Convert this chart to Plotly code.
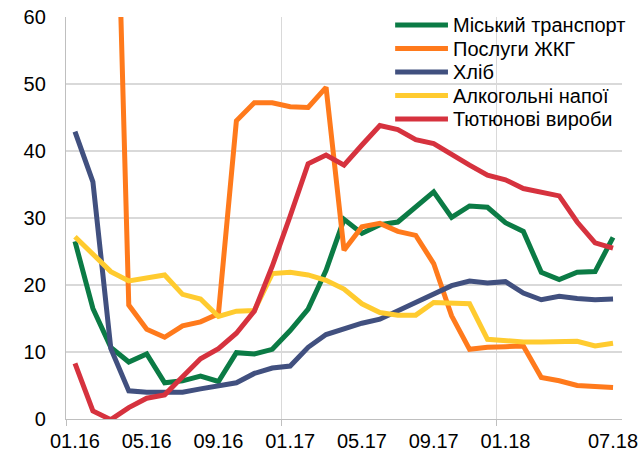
import plotly.graph_objects as go

months = ["01.16","02.16","03.16","04.16","05.16","06.16","07.16","08.16","09.16","10.16","11.16","12.16",
          "01.17","02.17","03.17","04.17","05.17","06.17","07.17","08.17","09.17","10.17","11.17","12.17",
          "01.18","02.18","03.18","04.18","05.18","06.18","07.18"]
tick_labels = ["01.16","05.16","09.16","01.17","05.17","09.17","01.18","07.18"]

transport = [26.5, 16.5, 10.7, 8.5, 9.7, 5.4, 5.7, 6.4, 5.6, 9.9, 9.7, 10.4, 13.2, 16.4, 22.2, 29.8,
             27.7, 29.0, 29.4, 31.6, 33.9, 30.1, 31.8, 31.6, 29.3, 28.0, 21.9, 20.8, 21.9, 22.0, 27.1]
utilities = [103, 104, 115, 17.0, 13.4, 12.2, 13.9, 14.5, 15.7, 44.5, 47.2, 47.2, 46.6, 46.5, 49.5, 25.2,
             28.7, 29.2, 28.0, 27.4, 23.2, 15.4, 10.4, 10.7, 10.8, 10.9, 6.2, 5.7, 5.0, 4.8, 4.7]
bread = [42.9, 35.4, 10.5, 4.2, 4.0, 4.0, 4.0, 4.5, 5.0, 5.4, 6.8, 7.6, 7.9, 10.7, 12.6, 13.5,
         14.3, 14.9, 16.2, 17.5, 18.8, 19.9, 20.6, 20.3, 20.5, 18.8, 17.8, 18.3, 18.0, 17.8, 17.9]
alcohol = [27.2, 24.7, 22.0, 20.6, 21.1, 21.5, 18.6, 17.9, 15.3, 16.1, 16.2, 21.7, 21.9, 21.5, 20.7, 19.4,
           17.2, 15.9, 15.5, 15.5, 17.4, 17.3, 17.2, 11.9, 11.7, 11.5, 11.5, 11.6, 11.6, 10.9, 11.3]
tobacco = [8.3, 1.2, -0.1, 1.7, 3.1, 3.6, 6.3, 9.0, 10.5, 12.8, 16.1, 22.8, 30.3, 38.1, 39.4, 37.9,
           40.9, 43.8, 43.2, 41.7, 41.1, 39.4, 37.9, 36.4, 35.7, 34.4, 33.8, 33.3, 29.4, 26.3, 25.5]

series_names = ["Міський транспорт", "Послуги ЖКГ", "Хліб", "Алкогольні напої", "Тютюнові вироби"]
series_values = [transport, utilities, bread, alcohol, tobacco]
series_colors = ["#0B7B45", "#FF7A1C", "#41507F", "#FFCB2F", "#D6323E"]

font = "Liberation Sans, Arial, sans-serif"
x = list(range(len(months)))
fig = go.Figure()
for name, vals, color in zip(series_names, series_values, series_colors):
    fig.add_trace(go.Scatter(x=x, y=vals, name=name, mode="lines", showlegend=False,
                             text=months, hovertemplate="%{text}: %{y}<extra>" + name + "</extra>",
                             line=dict(color=color, width=5)))

# custom legend (tight row spacing as in the reference)
leg_top = 0.980
leg_step = 0.0585
for i, (name, color) in enumerate(zip(series_names, series_colors)):
    yy = leg_top - i * leg_step
    fig.add_shape(type="line", xref="paper", yref="paper", x0=0.592, x1=0.687, y0=yy, y1=yy,
                  line=dict(color=color, width=5))
    fig.add_annotation(xref="paper", yref="paper", x=0.692, y=yy, xanchor="left", yanchor="middle",
                       text=name, showarrow=False, font=dict(family=font, size=20, color="#000000"))

fig.update_layout(
    width=640, height=452,
    margin=dict(l=66, r=18, t=17, b=33, autoexpand=False),
    paper_bgcolor="white", plot_bgcolor="white",
    font=dict(family=font, size=20, color="#000000"),
    showlegend=False,
    xaxis=dict(range=[-0.5, 30.5], tickmode="array",
               tickvals=[months.index(t) for t in tick_labels], ticktext=tick_labels,
               showgrid=False, ticks="", showline=True, linecolor="#BFBFBF", linewidth=1.3,
               zeroline=False, ticklabelstandoff=4, ticklabeloverflow="allow",
               minor=dict(tickvals=[-0.5, 11.5, 23.5], showgrid=True, gridcolor="#D9D9D9",
                          gridwidth=1.3, ticks="outside", ticklen=6, tickcolor="#BFBFBF")),
    yaxis=dict(range=[0, 60], dtick=10, showgrid=True, gridcolor="#D9D9D9", gridwidth=1.6,
               showline=True, linecolor="#BFBFBF", linewidth=1.3, zeroline=False,
               ticks="", ticklabelstandoff=15, ticklabeloverflow="allow"),
)

fig.write_html("out.html", config={"displayModeBar": False},
               post_script="document.body.style.margin='0px';document.body.style.overflow='hidden';")
